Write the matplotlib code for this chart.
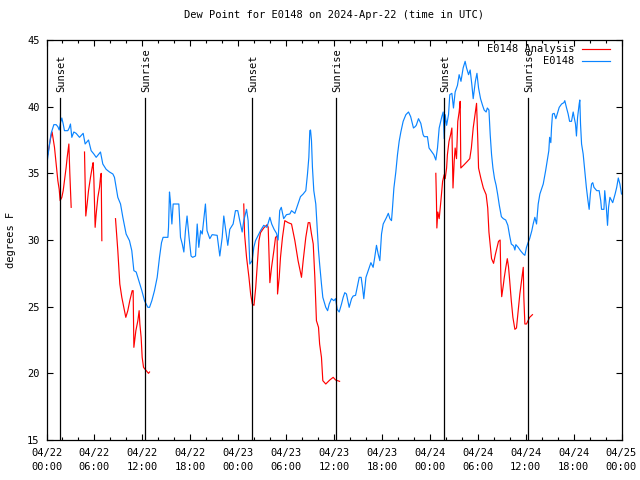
import numpy as np
import matplotlib
matplotlib.use("Agg")
import matplotlib.pyplot as plt
from matplotlib.ticker import MultipleLocator

# ── data: hours since 2024-04-22 00:00 UTC ────────────────────────────────
obs_hours = [
    0.0, 0.38, 0.58, 0.92, 1.21, 1.42, 1.59, 1.75, 1.92, 2.09, 2.25, 2.67, 2.84, 3.0,
    3.17, 3.42, 3.71, 4.13, 4.59, 4.84, 5.26, 5.59, 5.93, 6.22, 6.76, 7.05, 7.47, 7.89,
    8.31, 8.51, 8.93, 9.27, 9.56, 9.97, 10.39, 10.68, 10.94, 11.23, 11.56, 11.94, 12.27,
    12.69, 12.9, 13.19, 13.52, 13.86, 14.15, 14.4, 14.6, 15.2, 15.28, 15.4, 15.5, 15.7,
    15.86, 16.57, 16.78, 17.0, 17.2, 17.4, 17.6, 17.85, 18.1, 18.3, 18.66, 18.87, 19.07,
    19.3, 19.5, 19.9, 20.1, 20.45, 20.74, 21.37, 21.7, 22.0, 22.2, 22.5, 22.7, 22.95,
    23.37, 23.66, 23.95, 24.2, 24.5, 24.7, 25.05, 25.25, 25.46, 25.75, 25.96, 26.17,
    26.6, 26.8, 27.2, 27.6, 27.97, 28.2, 28.5, 28.8, 29.0, 29.2, 29.4, 29.7, 30.05,
    30.47, 30.68, 31.1, 31.5, 31.8, 32.14, 32.47, 32.68, 32.85, 32.97, 33.06, 33.18,
    33.3, 33.47, 33.72, 33.89, 34.06, 34.2, 34.43, 34.6, 34.97, 35.2, 35.4, 35.68,
    35.98, 36.2, 36.4, 36.65, 36.94, 37.15, 37.35, 37.56, 37.9, 38.2, 38.4, 38.7, 38.9,
    39.16, 39.4, 39.57, 39.73, 40.0, 40.28, 40.62, 40.9, 41.1, 41.32, 41.53, 41.74,
    41.95, 42.16, 42.37, 42.58, 42.8, 43.0, 43.2, 43.3, 43.5, 43.74, 43.95, 44.16,
    44.37, 44.66, 45.0, 45.33, 45.6, 45.95, 46.16, 46.3, 46.58, 46.87, 47.16, 47.3,
    47.7, 47.9, 48.25, 48.5, 48.75, 48.96, 49.17, 49.5, 49.67, 49.8, 49.92, 50.1,
    50.34, 50.5, 50.76, 50.96, 51.17, 51.46, 51.67, 51.9, 52.17, 52.42, 52.6, 52.85,
    53.05, 53.27, 53.43, 53.7, 53.9, 54.1, 54.35, 54.6, 54.8, 55.05, 55.2, 55.4, 55.56,
    55.73, 55.9, 56.1, 56.3, 56.5, 56.7, 56.96, 57.2, 57.5, 57.77, 58.0, 58.2, 58.5,
    58.65, 58.77, 59.06, 59.35, 59.7, 59.9, 60.1, 60.3, 60.5, 60.77, 60.94, 61.15,
    61.36, 61.57, 61.78, 62.0, 62.2, 62.5, 62.7, 62.9, 63.0, 63.15, 63.24, 63.36,
    63.57, 63.78, 63.95, 64.2, 64.5, 64.78, 64.9, 65.1, 65.32, 65.5, 65.74, 65.95,
    66.07, 66.24, 66.36, 66.5, 66.7, 66.78, 66.87, 67.0, 67.2, 67.4, 67.6, 67.8, 67.95,
    68.1, 68.25, 68.4, 68.55, 68.9, 69.2, 69.4, 69.5, 69.8, 69.9, 70.1, 70.25, 70.38,
    70.55, 70.9, 71.2, 71.4, 71.6, 71.8, 72.0,
]
obs_dewpt = [
    35.5, 37.2, 38.0, 38.65, 38.65, 38.5, 38.25, 38.8, 39.15, 38.7, 38.2, 38.2, 38.4, 38.7,
    37.7, 38.1, 38.0, 37.7, 38.0, 37.2, 37.5, 36.7, 36.45, 36.2, 36.6, 35.7, 35.3, 35.1,
    34.95, 34.7, 33.2, 32.7, 31.7, 30.45, 29.95, 29.2, 27.7, 27.6, 26.95, 26.2, 25.45,
    24.95, 24.95, 25.45, 26.2, 27.2, 28.7, 29.8, 30.2, 30.2, 30.95, 33.6, 33.0, 31.2,
    32.7, 32.7, 30.2, 29.7, 29.1, 30.7, 31.8, 30.2, 28.8, 28.7, 28.8, 31.2, 29.45,
    30.7, 30.45, 32.7, 30.7, 30.1, 30.4, 30.35, 28.8, 30.2, 31.8, 30.45, 29.6, 30.8,
    31.2, 32.2, 32.2, 31.45, 30.6, 31.45, 32.3, 31.45, 28.2, 28.45, 29.45, 29.95,
    30.45, 30.7, 31.1, 30.95, 31.7, 31.2, 30.8, 30.5, 30.0, 32.2, 32.45, 31.6, 31.9,
    31.95, 32.2, 32.0, 32.7, 33.25, 33.45, 33.7, 34.95, 36.2, 38.2, 38.25, 37.45,
    35.45, 33.7, 32.7, 30.95, 29.2, 28.2, 26.7, 25.7, 24.95, 24.7, 25.2, 25.6,
    25.45, 25.6, 24.8, 24.6, 25.2, 25.7, 26.05, 25.95, 24.95, 25.6, 25.8, 25.85, 26.45,
    27.2, 27.2, 26.45, 25.6, 27.2, 27.7, 28.3, 27.95, 28.7, 29.6, 28.95, 28.45,
    30.45, 31.2, 31.45, 31.7, 32.0, 31.6, 31.45, 32.2, 33.9, 35.1, 36.4, 37.4,
    38.1, 38.9, 39.4, 39.6, 39.25, 38.4, 38.5, 38.6, 39.1, 38.75, 37.9, 37.75,
    37.75, 36.9, 36.6, 36.4, 36.0, 36.9, 38.4, 39.25, 39.6, 37.6, 39.4, 38.6,
    39.4, 40.9, 41.0, 39.9, 41.1, 41.6, 42.4, 41.9, 42.9, 43.4, 42.9, 42.4,
    42.75, 41.6, 40.6, 41.9, 42.5, 41.4, 40.6, 40.1, 39.75, 39.6, 39.9, 39.75, 37.9,
    36.4, 35.4, 34.6, 34.1, 33.4, 32.6, 31.75, 31.6, 31.5, 31.1, 30.3, 29.7, 29.55,
    29.25, 29.65, 29.45, 29.2, 28.95, 28.85, 29.45, 29.8, 30.1, 30.7, 31.2, 31.7,
    31.2, 32.7, 33.45, 33.85, 34.2, 35.2, 35.95, 36.7, 37.7, 37.3, 38.45, 39.45,
    39.5, 39.1, 39.45, 39.95, 40.2, 40.3, 40.45, 39.95, 39.45, 38.9, 38.9, 39.6,
    39.2, 38.7, 37.8, 39.2, 40.2, 40.5, 38.7, 37.2, 36.45, 35.2, 33.95, 32.95, 32.3,
    33.45, 34.2, 34.3, 33.95, 33.7, 33.7, 32.95, 32.3, 32.3, 33.7, 32.45, 31.1, 32.45,
    33.2, 32.8, 33.45, 33.95, 34.65, 34.2, 33.45,
]

# analysis series, nan marks a gap
nan = np.nan
ana_hours = [
    0.16, 0.5, 0.7, 1.0, 1.21, 1.42, 1.59, 1.71, 1.92, 2.09, 2.25, 2.46, 2.59, 2.75, 2.8,
    2.92, 3.09, 3.5,
    4.76, 4.92, 5.09, 5.26, 5.51, 5.72, 5.84, 5.93, 6.09, 6.22, 6.43, 6.64, 6.76, 6.85,
    6.93, 7.5,
    8.64, 8.93, 9.18, 9.43, 9.77, 9.93, 10.18, 10.43, 10.73, 10.85, 10.94, 11.19, 11.44,
    11.6, 11.69, 11.85, 11.98, 12.15, 12.35, 12.77, 12.9, 13.5,
    24.7, 24.8, 25.05, 25.35, 25.56, 25.77, 25.98, 26.2, 26.4, 26.6, 26.8, 27.2, 27.63,
    27.76, 27.97, 28.18, 28.47, 28.68, 28.88, 28.93, 29.14, 29.3, 29.55, 29.84, 30.26,
    30.68, 31.1, 31.5, 31.8, 31.93, 32.14, 32.47, 32.77, 32.97, 33.18, 33.4, 33.6, 33.8,
    34.06, 34.2, 34.43, 34.6, 34.97, 35.47, 35.9, 36.2, 36.7, 37.5,
    48.75, 48.83, 48.88, 49.0, 49.17, 49.38, 49.6, 49.8, 49.92, 50.1, 50.2, 50.4, 50.6,
    50.76, 50.9, 51.05, 51.17, 51.34, 51.5, 51.67, 51.8, 51.88, 52.3, 52.7, 53.0, 53.2,
    53.43, 53.7, 53.85, 54.0, 54.1, 54.4, 54.7, 55.05, 55.25, 55.4, 55.56, 55.73, 55.98,
    56.2, 56.4, 56.6, 56.8, 56.9, 57.0, 57.2, 57.3, 57.5, 57.7, 57.85, 58.0, 58.2, 58.4,
    58.65, 58.85, 59.06, 59.27, 59.48, 59.7, 59.77, 59.9, 60.1, 60.3, 60.5, 60.85,
]
ana_dewpt = [
    36.4, 37.6, 38.1, 36.95, 35.7, 34.45, 33.8, 32.95, 33.2, 33.7, 34.45, 35.45, 36.2, 36.95, 37.2,
    35.0, 32.45, nan,
    36.6, 31.8, 32.7, 33.7, 34.7, 35.45, 35.8, 34.6, 30.95, 31.95, 33.2, 33.95, 34.7, 35.0,
    29.95, nan,
    31.6, 29.2, 26.7, 25.7, 24.7, 24.2, 24.7, 25.45, 26.2, 26.2, 21.95, 23.2, 23.95,
    24.7, 23.7, 22.7, 21.2, 20.45, 20.3, 20.0, 20.1, nan,
    32.7, 30.45, 28.7, 27.2, 25.95, 25.2, 25.1, 26.45, 28.2, 29.95, 30.55, 30.9, 31.15,
    30.95, 26.8, 27.95, 29.2, 30.2, 30.3, 25.95, 27.2, 28.7, 30.2, 31.45, 31.3,
    31.2, 29.95, 28.45, 27.6, 27.2, 28.45, 30.2, 31.3, 31.3, 30.45, 29.7, 27.2, 23.95,
    23.45, 22.2, 21.2, 19.45, 19.2, 19.5, 19.7, 19.5, 19.4, nan,
    35.0, 32.9, 30.9, 32.1, 31.6, 32.9, 34.4, 34.9, 34.6, 35.4, 36.4, 37.4, 37.9,
    38.4, 33.9, 35.9, 36.9, 36.1, 38.9, 39.6, 40.4, 35.4, 35.65, 35.9, 36.1, 36.9,
    38.4, 39.6, 40.25, 37.6, 35.4, 34.6, 33.9, 33.4, 32.4, 30.6, 29.6, 28.6, 28.25,
    28.9, 29.4, 29.9, 30.0, 26.9, 25.75, 26.6, 27.1, 27.9, 28.6, 28.0, 26.95, 25.45, 24.2,
    23.3, 23.4, 24.7, 25.95, 26.95, 27.95, 25.7, 23.7, 23.7, 23.95, 24.2, 24.4,
]

sun_hours  = [1.67, 12.31, 25.71, 36.23, 49.75, 60.27]
sun_labels = ["Sunset", "Sunrise", "Sunset", "Sunrise", "Sunset", "Sunrise"]

tick_hours  = list(range(0, 73, 6))
tick_labels = ["04/22\n00:00", "04/22\n06:00", "04/22\n12:00", "04/22\n18:00",
               "04/23\n00:00", "04/23\n06:00", "04/23\n12:00", "04/23\n18:00",
               "04/24\n00:00", "04/24\n06:00", "04/24\n12:00", "04/24\n18:00",
               "04/25\n00:00"]

# ── plot ──────────────────────────────────────────────────────────────────
MONO = "DejaVu Sans Mono"
plt.rcParams["font.family"] = MONO
plt.rcParams["font.size"] = 7

fig = plt.figure(figsize=(6.4, 4.8), dpi=100)
ax = fig.add_axes([46.5 / 640, 40 / 480, 575 / 640, 400 / 480])

ax.plot(ana_hours, ana_dewpt, color="#ff0000", lw=0.85, label="E0148 Analysis")
ax.plot(obs_hours, obs_dewpt, color="#0a84ff", lw=0.85, label="E0148")

for h, lab in zip(sun_hours, sun_labels):
    ax.plot([h, h], [15, 40.65], color="black", lw=0.9)
    ax.text(h + 0.15, 41.1, lab, rotation=90, ha="center", va="bottom", fontsize=7.5)

ax.set_xlim(0, 72)
ax.set_ylim(15, 45)
ax.set_xticks(tick_hours)
ax.set_xticklabels(tick_labels, linespacing=1.4)
ax.xaxis.set_minor_locator(MultipleLocator(2))
ax.set_yticks(range(15, 46, 5))

ax.tick_params(which="both", direction="in", top=True, right=True, labelsize=7.5)
ax.tick_params(which="major", length=4, width=0.8)
ax.tick_params(which="minor", length=2.5, width=0.8)
ax.tick_params(axis="x", pad=6)
ax.tick_params(axis="y", pad=5)
for spine in ax.spines.values():
    spine.set_linewidth(0.9)

ax.set_ylabel("degrees F", fontsize=7.5, labelpad=8)
ax.set_title("Dew Point for E0148 on 2024-Apr-22 (time in UTC)", fontsize=7.5, pad=16)

# legend sits just under the top frame, text left of the sample line
leg = ax.legend(loc="upper right", bbox_to_anchor=(0.988, 1.0), frameon=False,
                markerfirst=False, fontsize=7.5, handlelength=2.7,
                handletextpad=0.75, borderpad=0.3, borderaxespad=0.1,
                labelspacing=0.2)

fig.savefig("out.png", dpi=100)
